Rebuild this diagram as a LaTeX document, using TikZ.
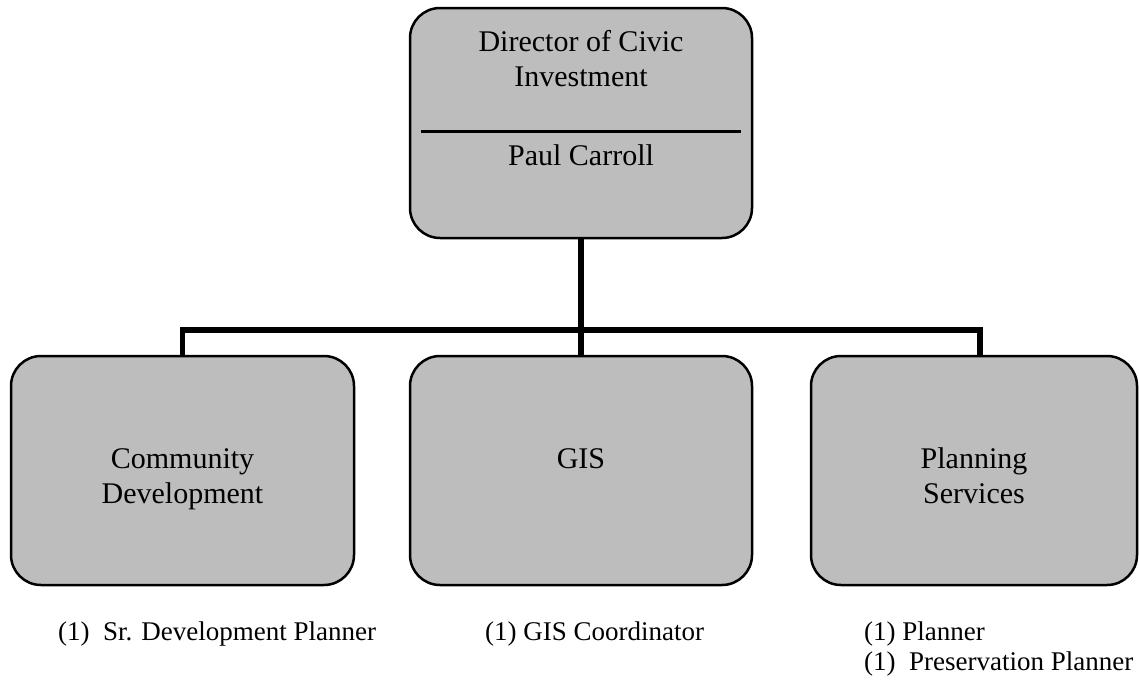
\documentclass[tikz,border=0pt]{standalone}
\usepackage{fontspec}
\setmainfont{Liberation Serif}
\usepackage{tikz}
\usetikzlibrary{positioning}
\definecolor{speckle}{gray}{0.74}
\tikzstyle{unit} = [rectangle, rounded corners=30pt, minimum height=229pt, text centered, draw=black, line width=2.5pt, fill=speckle, font=\fontsize{30}{35}\selectfont, inner sep=0pt, outer sep=0pt]
\tikzstyle{staff} = [anchor=west, inner sep=0pt, font=\fontsize{27}{30}\selectfont]
\tikzstyle{link} = [line width=5.5pt]
% two text lines, first baseline at the same height in every box
\newcommand{\unittext}[1]{\raisebox{-14.5pt}[0pt][0pt]{\parbox{300pt}{\centering\strut #1\strut}}}

\begin{document}
\begin{tikzpicture}[x=1pt, y=-1pt]
\useasboundingbox (0,0) rectangle (1139,680);

\node (dir) [unit, minimum width=342pt, minimum height=230pt] at (581,123) {};
\node (dirtitle) [font=\fontsize{30}{35}\selectfont, align=center, inner sep=0pt] at (581,59) {Director of Civic\\Investment};
\draw [line width=3pt] (421,131) -- (741,131);
\node (dirname) [font=\fontsize{30}{35}\selectfont, inner sep=0pt] at (581,155) {Paul Carroll};

\node (comm) [unit, minimum width=343pt] at (182.5,470.5) {\unittext{Community\\Development}};
\node (gis) [unit, minimum width=342pt] at (581,470.5) {\unittext{GIS\\}};
\node (plan) [unit, minimum width=326pt] at (974,470.5) {\unittext{Planning\\Services}};

\coordinate (bar) at (581,330);
\draw [link] (dir.south) -- (gis.north);
\draw [link] (comm.north) |- (bar) -| ([xshift=6pt]plan.north);

\node (commstaff) [staff] at (58,634) {(1)\enspace Sr. Development Planner};
\node (gisstaff) [staff] at (485,634) {(1) GIS Coordinator};
\node (planstaff) [staff] at (864,634) {(1) Planner};
\node (presstaff) [staff] at (864,664) {(1)\enspace Preservation Planner};

\end{tikzpicture}
\end{document}
